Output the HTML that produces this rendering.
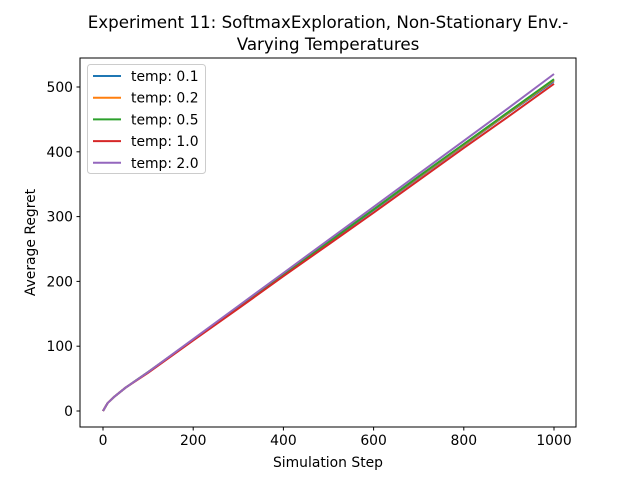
<!DOCTYPE html>
<html><head><meta charset="utf-8"><style>
body{margin:0;background:#fff}
svg{font-family:"DejaVu Sans","Liberation Sans",sans-serif}
</style></head><body>
<svg id="chart" width="640" height="480" viewBox="0 0 640 480">
<rect width="640" height="480" fill="#fff"/>
<text x="328" y="28" font-size="16.7" text-anchor="middle">Experiment 11: SoftmaxExploration, Non-Stationary Env.-</text>
<text x="328" y="50" font-size="16.7" text-anchor="middle">Varying Temperatures</text>
<g id="plot"></g>
<rect x="80" y="58" width="496" height="369" fill="none" stroke="#000" stroke-width="1"/>
<text x="328" y="467" font-size="13.9" text-anchor="middle">Simulation Step</text>
<text transform="translate(35,242.5) rotate(-90)" font-size="13.9" text-anchor="middle">Average Regret</text>
<g id="legend"></g>
</svg>
<script>
const steps=[0,10,25,50,100,200,300,400,500,600,700,800,900,1000];
const s01=[0,12,22,36,60,110,160,210,260,310,360,410,460,509];
const s02=[0,12,22,36,60,110,160,211,261,311,361,411,461,511];
const s05=[0,12,22,36,60,110,160,211,261,311,362,412,462,512];
const s10=[0,12,22,36,59,109,158,208,257,306,356,406,455,505];
const s20=[0,12,22,36,60,111,162,213,264,315,366,417,468,520];
const labels=["temp: 0.1","temp: 0.2","temp: 0.5","temp: 1.0","temp: 2.0"];
const xTicks=[0,200,400,600,800,1000];
const yTicks=[0,100,200,300,400,500];
const series=[s01,s02,s05,s10,s20];
const colors=["#1f77b4","#ff7f0e","#2ca02c","#d62728","#9467bd"];
const NS="http://www.w3.org/2000/svg";
const X=v=>103+v*0.451, Y=v=>411-v*0.648;
const plot=document.getElementById('plot');
function mk(t,a,p){const e=document.createElementNS(NS,t);for(const k in a)e.setAttribute(k,a[k]);(p||plot).appendChild(e);return e;}
xTicks.forEach(t=>{
 const l=mk('line',{x1:X(t),x2:X(t),y1:427,y2:430.5,stroke:'#000'});
 
 
 const tx=mk('text',{x:X(t),y:445,'font-size':13.9,'text-anchor':'middle'});tx.textContent=t;
 
 
});
yTicks.forEach(t=>{
 const l=mk('line',{x1:76.5,x2:80,y1:Y(t),y2:Y(t),stroke:'#000'});
 
 
 const tx=mk('text',{x:73,y:Y(t)+5,'font-size':13.9,'text-anchor':'end'});tx.textContent=t;
 
 
});
series.forEach((s,i)=>{
 const d=s.map((v,j)=>(j?'L':'M')+X(steps[j]).toFixed(1)+','+Y(v).toFixed(1)).join('');
 const p=mk('path',{d:d,fill:'none',stroke:colors[i],'stroke-width':2});
 
 
});
const lg=document.getElementById('legend');
const box=mk('rect',{x:87.5,y:64.5,width:118,height:109,rx:3,fill:'#fff','fill-opacity':0.8,stroke:'#ccc'},lg);


labels.forEach((t,i)=>{
 const y=76+i*21.7;
 const l=mk('line',{x1:93,x2:121,y1:y,y2:y,stroke:colors[i],'stroke-width':2},lg);
 
 
 const tx=mk('text',{x:131,y:y+5,'font-size':13.9},lg);tx.textContent=t;
 
 
});
</script>
</body></html>
